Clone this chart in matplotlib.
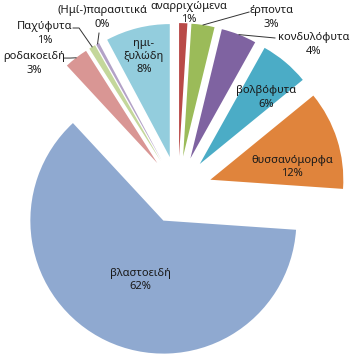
import matplotlib
matplotlib.use('Agg')
import matplotlib.pyplot as plt
import numpy as np

plt.rcParams['font.family'] = ['Noto Sans', 'DejaVu Sans']

# data, clockwise from 12 o'clock
categories = ['αναρριχώμενα', 'έρποντα', 'κονδυλόφυτα', 'βολβόφυτα', 'θυσσανόμορφα',
              'βλαστοειδή', 'ροδακοειδή', 'Παχύφυτα', '(Ημί-)παρασιτικά', 'ημι-\nξυλώδη']
values = [1.0, 2.8, 4.3, 6.0, 12.0, 62.0, 2.9, 0.8, 0.4, 7.8]
colors = ['#B94A48', '#9BBB59', '#7F63A1', '#4BACC6', '#E0843C',
          '#8FA9D0', '#D99694', '#C4D79B', '#B3A2C7', '#93CDDD']

# label positions (data units, pie radius = 1)
label_pos = [(0.083, 1.331), (0.70, 1.297), (1.023, 1.094), (0.662, 0.695), (0.857, 0.173),
             (-0.286, -0.677), (-1.083, 0.951), (-1.0, 1.177), (-0.571, 1.297), (-0.256, 1.004)]
# leader lines: label end points (None = no line)
leaders = [None, [(0.534, 1.338)], [(0.729, 1.143)], None, None, None,
           [(-0.812, 0.992), (-0.857, 0.992)], [(-0.744, 1.218), (-0.789, 1.218)],
           [(-0.594, 1.180)], None]

fig = plt.figure(figsize=(3.54, 3.60), dpi=100)
ax = fig.add_axes([0, 0, 1, 1])

wedges, _ = ax.pie(values, colors=colors, startangle=90, counterclock=False,
                   explode=[0.255] * len(values), radius=1,
                   wedgeprops=dict(linewidth=0))

total = sum(values)
for i, w in enumerate(wedges):
    pct = values[i] / total * 100
    ax.text(label_pos[i][0], label_pos[i][1], f"{categories[i]}\n{pct:.0f}%",
            ha='center', va='center', fontsize=8, color='#1a1a1a',
            linespacing=1.3)
    if leaders[i] is not None:
        th = np.deg2rad((w.theta1 + w.theta2) / 2)
        cx, cy = w.center
        px = [cx + w.r * np.cos(th)] + [p[0] for p in leaders[i]]
        py = [cy + w.r * np.sin(th)] + [p[1] for p in leaders[i]]
        ax.plot(px, py, color='#333333', linewidth=0.7)

ax.set_xlim(-178 / 133, 176 / 133)
ax.set_ylim(-170 / 133, 190 / 133)
ax.axis('off')

plt.savefig('out.png', dpi=100)
